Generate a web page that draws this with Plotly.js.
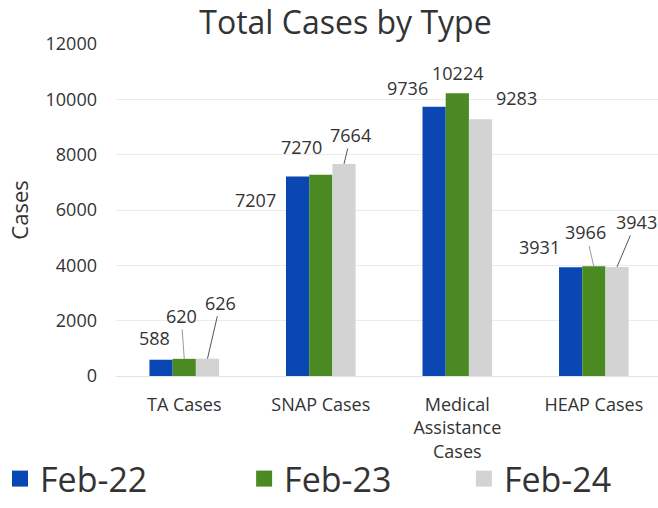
<!DOCTYPE html>
<html>
<head>
<meta charset="utf-8">
<script src="https://cdn.plot.ly/plotly-3.0.1.min.js"></script>
<style>html,body{margin:0;padding:0;background:#fff;}#chart{width:658px;height:508px;}</style>
</head>
<body>
<div id="chart"></div>
<script>
const categories = ["TA Cases", "SNAP Cases", "Medical<br>Assistance<br>Cases", "HEAP Cases"];
const seriesNames = ["Feb-22", "Feb-23", "Feb-24"];
const feb22 = [588, 7207, 9736, 3931];
const feb23 = [620, 7270, 10224, 3966];
const feb24 = [626, 7664, 9283, 3943];
const yTicks = [0, 2000, 4000, 6000, 8000, 10000, 12000];

const colors = ["#0a47b3", "#4b8a23", "#d3d3d3"];
const allSeries = [feb22, feb23, feb24];
const bargap = 0.49;
const barW = (1 - bargap) / 3;
const legendIds = ["legend", "legend2", "legend3"];
const legendX = [-0.018, 0.371, 0.705];

const traces = allSeries.map((vals, i) => ({
  type: "bar",
  x: categories.map((c, k) => k),
  y: vals,
  name: seriesNames[i],
  marker: {color: colors[i]},
  showlegend: false,
  hoverinfo: "y"
}));
// legend entries
seriesNames.forEach((n, i) => traces.push({
  type: "scatter", mode: "markers", x: [null], y: [null], name: n, legend: legendIds[i],
  marker: {symbol: "square", size: 16, color: colors[i]}, showlegend: true
}));

const labelFont = {family: "Open Sans, sans-serif", size: 18, color: "#333"};
const place = [
  [[-7, 22, false], [-3, -43, true], [13, -56, true]],
  [[-42, -23, false], [-19, 28, false], [7, -29, true]],
  [[-27, 19, false], [0, 20, false], [36, 21, false]],
  [[-31, 20, false], [-8, -34, true], [19, -45, true]]
];
const annotations = [];
for (let k = 0; k < categories.length; k++) {
  for (let i = 0; i < 3; i++) {
    const v = allSeries[i][k];
    const xc = k + (i - 1) * barW;
    const p = place[k][i];
    if (p[2]) {
      annotations.push({x: xc, y: v, xref: "x", yref: "y", text: String(v),
        showarrow: true, arrowhead: 0, arrowwidth: 1, arrowcolor: i === 2 ? "#555" : "#999",
        ax: p[0], ay: p[1], axref: "pixel", ayref: "pixel", font: labelFont, standoff: 0});
    } else {
      annotations.push({x: xc, y: v, xref: "x", yref: "y", text: String(v),
        showarrow: false, xshift: p[0], yshift: p[1], font: labelFont});
    }
  }
}

const layout = {
  width: 658, height: 508,
  margin: {l: 116, r: 0, t: 44, b: 132},
  paper_bgcolor: "#fff", plot_bgcolor: "#fff",
  font: {family: "Open Sans, sans-serif", color: "#333"},
  title: {text: "Total Cases by Type", x: 0.525, xanchor: "center", y: 0.955, yanchor: "middle",
    font: {family: "Open Sans, sans-serif", size: 32, color: "#333"}},
  barmode: "group", bargap: bargap, bargroupgap: 0,
  xaxis: {
    type: "linear", range: [-0.5, 3.47], tickvals: [0, 1, 2, 3], ticktext: categories,
    showgrid: false, zeroline: false, showline: false, ticks: "",
    tickfont: {size: 18, color: "#333"}, ticklabelstandoff: 16, automargin: false
  },
  yaxis: {
    range: [0, 12000], tickvals: yTicks, ticktext: yTicks.map(String),
    showgrid: true, gridcolor: "#ebebeb", gridwidth: 1, zeroline: true, zerolinecolor: "#e3e3e3",
    showline: false, ticks: "", tickfont: {size: 18, color: "#333"}, ticklabelstandoff: 18,
    title: {text: "Cases", font: {size: 22, color: "#333"}, standoff: 10}, automargin: false
  },
  annotations: annotations
};
legendIds.forEach((id, i) => {
  layout[id] = {
    orientation: "h", x: legendX[i], xref: "container", y: -0.016, yref: "container", yanchor: "bottom",
    font: {size: 34, color: "#333"}, itemsizing: "trace", bgcolor: "rgba(0,0,0,0)"
  };
});
Plotly.newPlot("chart", traces, layout, {displayModeBar: false, staticPlot: true});
</script>
</body>
</html>
